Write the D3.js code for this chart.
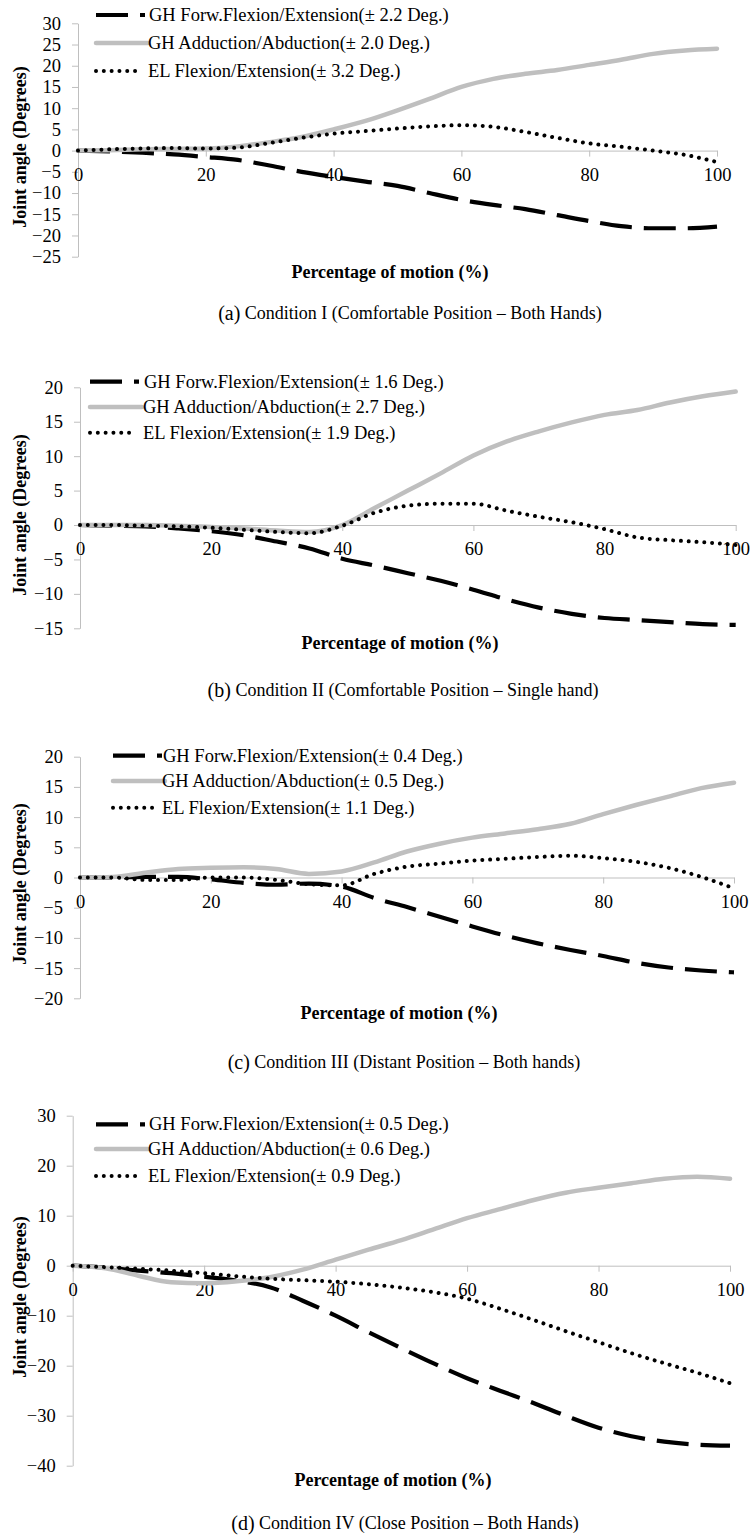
<!DOCTYPE html>
<html><head><meta charset="utf-8">
<script src="https://cdn.jsdelivr.net/npm/d3@7/dist/d3.min.js"></script>
<style>
body{margin:0;background:#fff}
svg{display:block}
svg text{font-family:"Liberation Serif","Times New Roman",serif !important;fill:#000}
</style>
</head><body>
<svg id="c" width="753" height="1538"></svg>
<script>
// ---------- data ----------
const pct = [0,5,10,15,20,25,30,35,40,45,50,55,60,65,70,75,80,85,90,95,100];
const xTicks = [0,20,40,60,80,100];

// (a) Condition I
const ghFlexA = [0,-0.2,-0.5,-0.9,-1.5,-2.2,-3.5,-5.0,-6.2,-7.3,-8.3,-10.0,-11.6,-12.8,-13.8,-15.2,-16.6,-17.8,-18.3,-18.3,-17.9];
const ghAbdA  = [0,0.1,0.3,0.4,0.5,1.0,2.0,3.2,5.0,7.0,9.5,12.2,15.0,16.9,18.1,19.0,20.2,21.4,22.8,23.6,24.0];
const elFlexA = [0,0.3,0.5,0.6,0.5,0.7,1.8,3.0,4.0,4.6,5.2,5.7,6.0,5.6,4.4,3.0,1.7,0.9,0.0,-1.0,-2.7];
const yTicksA = [30,25,20,15,10,5,0,-5,-10,-15,-20,-25];
const legA = ["GH Forw.Flexion/Extension(± 2.2 Deg.)","GH Adduction/Abduction(± 2.0 Deg.)","EL Flexion/Extension(± 3.2 Deg.)"];
const capLabelA = "(a)", capTextA = " Condition I (Comfortable Position – Both Hands)";

// (b) Condition II
const ghFlexB = [0,-0.1,-0.2,-0.5,-0.9,-1.5,-2.4,-3.4,-4.9,-5.9,-7.0,-8.1,-9.4,-10.8,-12.0,-12.9,-13.5,-13.8,-14.1,-14.4,-14.5];
const ghAbdB  = [0,0,0,-0.1,-0.3,-0.5,-0.8,-1.0,0.0,2.5,5.0,7.5,10.1,12.1,13.6,14.9,16.0,16.7,17.8,18.7,19.4];
const elFlexB = [0,0,-0.1,-0.2,-0.4,-0.7,-1.0,-1.2,-0.1,1.8,2.8,3.1,3.1,2.1,1.2,0.4,-0.6,-1.8,-2.2,-2.5,-2.9];
const yTicksB = [20,15,10,5,0,-5,-10,-15];
const legB = ["GH Forw.Flexion/Extension(± 1.6 Deg.)","GH Adduction/Abduction(± 2.7 Deg.)","EL Flexion/Extension(± 1.9 Deg.)"];
const capLabelB = "(b)", capTextB = " Condition II (Comfortable Position – Single hand)";

// (c) Condition III
const ghFlexC = [0,0,0.1,0.1,-0.3,-0.9,-1.2,-1.0,-1.5,-3.4,-4.9,-6.5,-8.1,-9.6,-10.9,-12.0,-13.0,-14.1,-14.9,-15.4,-15.7];
const ghAbdC  = [0,0.1,0.8,1.4,1.6,1.7,1.4,0.6,1.0,2.5,4.3,5.6,6.6,7.3,8.0,8.9,10.5,12.0,13.4,14.8,15.7];
const elFlexC = [0,0,-0.4,-0.4,0,0,-0.4,-1.1,-1.3,0.6,1.8,2.3,2.8,3.1,3.4,3.6,3.2,2.6,1.6,0.1,-1.8];
const yTicksC = [20,15,10,5,0,-5,-10,-15,-20];
const legC = ["GH Forw.Flexion/Extension(± 0.4 Deg.)","GH Adduction/Abduction(± 0.5 Deg.)","EL Flexion/Extension(± 1.1 Deg.)"];
const capLabelC = "(c)", capTextC = " Condition III (Distant Position – Both hands)";

// (d) Condition IV
const ghFlexD = [0,-0.4,-1.0,-1.5,-2.2,-3.0,-4.3,-7.0,-10.0,-13.3,-16.5,-19.6,-22.5,-25.0,-27.4,-30.0,-32.4,-34.1,-35.2,-35.8,-36.0];
const ghAbdD  = [0,-0.5,-2.0,-3.3,-3.5,-3.1,-2.3,-0.8,1.2,3.2,5.1,7.3,9.5,11.3,13.1,14.6,15.6,16.5,17.4,17.8,17.4];
const elFlexD = [0,-0.3,-0.6,-1.0,-1.5,-2.1,-2.6,-2.9,-3.2,-3.7,-4.4,-5.3,-6.6,-8.6,-10.8,-13.1,-15.3,-17.5,-19.5,-21.4,-23.5];
const yTicksD = [30,20,10,0,-10,-20,-30,-40];
const legD = ["GH Forw.Flexion/Extension(± 0.5 Deg.)","GH Adduction/Abduction(± 0.6 Deg.)","EL Flexion/Extension(± 0.9 Deg.)"];
const capLabelD = "(d)", capTextD = " Condition IV (Close Position – Both Hands)";

const yTitle = "Joint angle (Degrees)";
const xTitle = "Percentage of motion (%)";

// ---------- layout ----------
const panels = [
  {series:[ghFlexA,ghAbdA,elFlexA], yt:yTicksA, leg:legA, cl:capLabelA, ct:capTextA,
   left:78, right:717, top:23.3, bottom:256.7, legX:96, legY:[15,43,71], txtX:148, titleX:390, titleY:272, capX:410, capY:313, ytY:147},
  {series:[ghFlexB,ghAbdB,elFlexB], yt:yTicksB, leg:legB, cl:capLabelB, ct:capTextB,
   left:80, right:735.7, top:387.3, bottom:628.3, legX:90, legY:[381.7,407,432.7], txtX:143, titleX:400, titleY:643, capX:403, capY:690, ytY:515},
  {series:[ghFlexC,ghAbdC,elFlexC], yt:yTicksC, leg:legC, cl:capLabelC, ct:capTextC,
   left:80, right:734, top:756.7, bottom:998.3, legX:113, legY:[755.7,781,807.7], txtX:162, titleX:399, titleY:1013, capX:404, capY:1062, ytY:884},
  {series:[ghFlexD,ghAbdD,elFlexD], yt:yTicksD, leg:legD, cl:capLabelD, ct:capTextD,
   left:72.7, right:730, top:1115.7, bottom:1465.7, legX:96, legY:[1124.3,1149,1176], txtX:148, titleX:393, titleY:1480, capX:405, capY:1523, ytY:1297}
];

const styles = [
  {stroke:"#000", width:4.2, dash:"32,12", cap:"butt"},
  {stroke:"#bfbfbf", width:4.5, dash:null, cap:"round"},
  {stroke:"#000", width:4, dash:"0.01,7.8", cap:"round"}
];
const axisColor = "#bfbfbf";

const svg = d3.select("#c");

panels.forEach(p => {
  const g = svg.append("g");
  const x = d3.scaleLinear().domain([0,100]).range([p.left, p.right]);
  const y = d3.scaleLinear().domain([p.yt[p.yt.length-1], p.yt[0]]).range([p.bottom, p.top]);

  // y axis
  const ya = g.append("g").attr("transform", `translate(${p.left},0)`)
    .call(d3.axisLeft(y).tickValues(p.yt).tickSize(6).tickSizeOuter(0).tickPadding(11).tickFormat(d3.format("d")));
  ya.attr("font-family", null).attr("font-size", null);
  ya.selectAll("path,line").attr("stroke", axisColor);
  ya.selectAll("text").style("font-size","18.5px");

  // x axis at y = 0
  const xa = g.append("g").attr("transform", `translate(0,${y(0)})`)
    .call(d3.axisBottom(x).tickValues(xTicks).tickSize(6).tickSizeOuter(0).tickPadding(0).tickFormat(d3.format("d")));
  xa.attr("font-family", null).attr("font-size", null);
  xa.selectAll("path,line").attr("stroke", axisColor);
  xa.selectAll("text").style("font-size","18.5px").attr("dy",null).attr("y",24).attr("dominant-baseline","central");

  // lines
  const line = d3.line().x((d,i)=>x(pct[i])).y(d=>y(d)).curve(d3.curveMonotoneX);
  p.series.forEach((s,k) => {
    const st = styles[k];
    g.append("path").datum(s).attr("d", line).attr("fill","none")
      .attr("stroke", st.stroke).attr("stroke-width", st.width)
      .attr("stroke-dasharray", st.dash).attr("stroke-linecap", st.cap)
      .attr("stroke-linejoin","round");
  });

  // legend
  p.leg.forEach((t,k) => {
    const st = styles[k];
    const x2 = k===2 ? p.legX+42 : (k===0 ? p.legX+49 : p.legX+52);
    g.append("line").attr("x1", p.legX).attr("x2", x2).attr("y1", p.legY[k]).attr("y2", p.legY[k])
      .attr("stroke", st.stroke).attr("stroke-width", st.width)
      .attr("stroke-dasharray", st.dash).attr("stroke-linecap", st.cap);
    g.append("text").attr("x", p.txtX + (k===0?1:0)).attr("y", p.legY[k]).attr("dominant-baseline","central")
      .style("font-size","18.5px").text(t);
  });

  // y title
  g.append("text").attr("transform", `translate(20,${p.ytY}) rotate(-90)`)
    .attr("text-anchor","middle").attr("dominant-baseline","central")
    .style("font-size","18px").style("font-weight","bold").text(yTitle);

  // x title
  g.append("text").attr("x", p.titleX).attr("y", p.titleY).attr("text-anchor","middle").attr("dominant-baseline","central")
    .style("font-size","18px").style("font-weight","bold").text(xTitle);

  // caption
  const c = g.append("text").attr("x", p.capX).attr("y", p.capY).attr("text-anchor","middle").attr("dominant-baseline","central")
    .style("font-size","18px");
  c.append("tspan").style("font-size","20px").text(p.cl);
  c.append("tspan").text(p.ct);
});
</script>
</body></html>
